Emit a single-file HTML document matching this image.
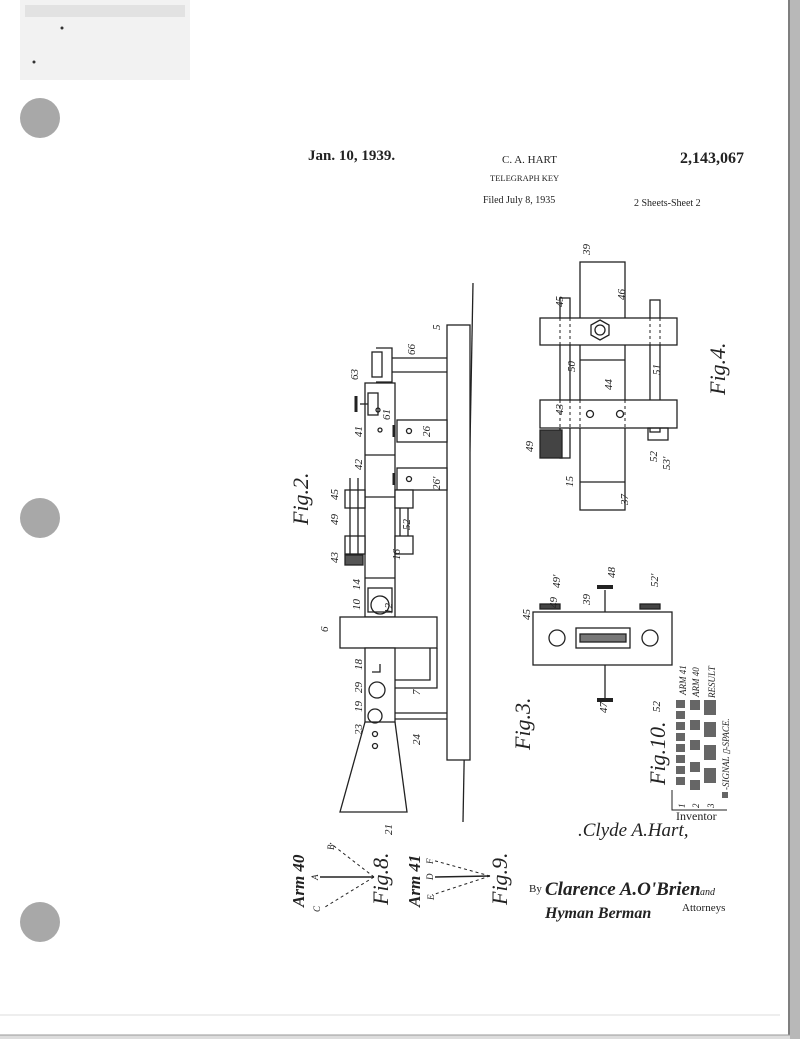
<!DOCTYPE html>
<html><head><meta charset="utf-8"><style>
html,body{margin:0;padding:0;background:#fff}
svg{display:block}
text{font-family:"Liberation Serif",serif;fill:#222}
.it{font-style:italic}
</style></head><body>
<svg width="800" height="1039" viewBox="0 0 800 1039" xmlns="http://www.w3.org/2000/svg">
<rect width="800" height="1039" fill="#fff"/>
<!-- page edges -->
<rect x="790" y="0" width="10" height="1039" fill="#b8b8b8"/>
<line x1="789" y1="0" x2="789" y2="1039" stroke="#555" stroke-width="1.5"/>
<rect x="0" y="1035" width="790" height="4" fill="#ddd"/>
<line x1="0" y1="1035" x2="790" y2="1035" stroke="#999" stroke-width="1"/>
<line x1="0" y1="1015" x2="780" y2="1015" stroke="#eee" stroke-width="2"/>
<!-- smudge top-left -->
<rect x="20" y="0" width="170" height="80" fill="#f2f2f2"/>
<rect x="25" y="5" width="160" height="12" fill="#e2e2e2"/>
<circle cx="62" cy="28" r="1.5" fill="#333"/>
<circle cx="34" cy="62" r="1.5" fill="#333"/>
<!-- punch holes -->
<circle cx="40" cy="118" r="20" fill="#a8a8a8"/>
<circle cx="40" cy="518" r="20" fill="#a8a8a8"/>
<circle cx="40" cy="922" r="20" fill="#a8a8a8"/>

<!-- header -->
<text x="308" y="160" font-size="15" font-weight="bold">Jan. 10, 1939.</text>
<text x="502" y="163" font-size="11" font-family="Liberation Sans,sans-serif">C. A. HART</text>
<text x="680" y="163" font-size="16" font-weight="bold">2,143,067</text>
<text x="490" y="181" font-size="8.5" font-family="Liberation Mono,monospace">TELEGRAPH KEY</text>
<text x="483" y="203" font-size="10" font-family="Liberation Mono,monospace">Filed July 8, 1935</text>
<text x="634" y="206" font-size="10" font-family="Liberation Mono,monospace">2 Sheets-Sheet 2</text>

<g stroke="#222" stroke-width="1.3" fill="none">
<!-- Fig 2 -->
<line x1="473" y1="283" x2="463" y2="822"/>
<rect x="447" y="325" width="23" height="435" fill="#fff"/>
<rect x="372" y="352" width="10" height="25"/>
<path d="M376 348 h16 v34 h-16"/>
<line x1="392" y1="358" x2="447" y2="358"/><line x1="392" y1="372" x2="447" y2="372"/>
<rect x="365" y="383" width="30" height="234" fill="#fff"/>
<line x1="365" y1="455" x2="395" y2="455"/>
<line x1="365" y1="497" x2="395" y2="497"/>
<line x1="365" y1="578" x2="395" y2="578"/>
<rect x="368" y="393" width="10" height="22"/><line x1="360" y1="404" x2="368" y2="404"/><line x1="356" y1="396" x2="356" y2="412" stroke-width="3"/>
<circle cx="378" cy="410" r="2"/><circle cx="380" cy="430" r="2"/>
<rect x="397" y="420" width="50" height="22" fill="#fff"/><circle cx="409" cy="431" r="2.5"/>
<rect x="397" y="468" width="50" height="22" fill="#fff"/><circle cx="409" cy="479" r="2.5"/>
<line x1="394" y1="425" x2="394" y2="437" stroke-width="3"/><line x1="394" y1="473" x2="394" y2="485" stroke-width="3"/>
<rect x="345" y="490" width="20" height="18" fill="#fff"/><rect x="395" y="490" width="18" height="18" fill="#fff"/>
<rect x="345" y="536" width="20" height="18" fill="#fff"/><rect x="395" y="536" width="18" height="18" fill="#fff"/>
<line x1="350" y1="478" x2="350" y2="560"/><line x1="358" y1="478" x2="358" y2="560"/>
<rect x="345" y="555" width="18" height="10" fill="#555"/>
<line x1="400" y1="508" x2="400" y2="536"/><line x1="408" y1="508" x2="408" y2="536"/>
<rect x="368" y="588" width="24" height="24"/><circle cx="380" cy="605" r="9"/>
<rect x="340" y="617" width="97" height="31" fill="#fff"/>
<rect x="365" y="648" width="30" height="74" fill="#fff"/>
<path d="M365 722 L340 812 L407 812 L395 722"/>
<circle cx="377" cy="690" r="8"/><circle cx="375" cy="716" r="7"/>
<circle cx="375" cy="734" r="2.5"/><circle cx="375" cy="746" r="2.5"/>
<path d="M380 664 v8 h-8"/>
<path d="M395 680 h35 v-32"/><path d="M395 688 h42 v-40"/>
<line x1="395" y1="713" x2="447" y2="713"/><line x1="395" y1="719" x2="447" y2="719"/>

<!-- Fig 4 -->
<rect x="580" y="262" width="45" height="248" fill="#fff"/>
<line x1="580" y1="482" x2="625" y2="482"/>
<line x1="580" y1="360" x2="625" y2="360"/>
<rect x="560" y="298" width="10" height="160"/>
<rect x="650" y="300" width="10" height="132"/>
<rect x="540" y="318" width="137" height="27" fill="#fff"/>
<rect x="540" y="400" width="137" height="28" fill="#fff"/>
<polygon points="600,320 609,325 609,335 600,340 591,335 591,325"/>
<circle cx="600" cy="330" r="5"/>
<circle cx="590" cy="414" r="3.5"/><circle cx="620" cy="414" r="3.5"/>
<rect x="540" y="430" width="22" height="28" fill="#444"/>
<rect x="648" y="428" width="20" height="12"/>
<g stroke-dasharray="3,3" stroke-width="1"><line x1="560" y1="318" x2="560" y2="345"/><line x1="570" y1="318" x2="570" y2="345"/><line x1="650" y1="318" x2="650" y2="345"/><line x1="660" y1="318" x2="660" y2="345"/>
<line x1="560" y1="400" x2="560" y2="428"/><line x1="570" y1="400" x2="570" y2="428"/><line x1="580" y1="400" x2="580" y2="428"/><line x1="625" y1="400" x2="625" y2="428"/></g>

<!-- Fig 3 -->
<rect x="533" y="612" width="139" height="53" fill="#fff"/>
<circle cx="557" cy="638" r="8"/><circle cx="650" cy="638" r="8"/>
<rect x="576" y="628" width="54" height="20"/>
<rect x="580" y="634" width="46" height="8" fill="#777"/>
<line x1="605" y1="612" x2="605" y2="590"/><line x1="597" y1="587" x2="613" y2="587" stroke-width="4"/>
<line x1="605" y1="665" x2="605" y2="698"/><line x1="597" y1="700" x2="613" y2="700" stroke-width="4"/>
<rect x="540" y="604" width="20" height="5" fill="#444"/><rect x="640" y="604" width="20" height="5" fill="#444"/>

<!-- Fig 8 -->
<line x1="374" y1="877" x2="320" y2="877" stroke-width="1.6"/>
<line x1="374" y1="877" x2="330" y2="843" stroke-dasharray="3,3" stroke-width="1"/>
<line x1="374" y1="877" x2="325" y2="907" stroke-dasharray="3,3" stroke-width="1"/>
<!-- Fig 9 -->
<line x1="490" y1="876" x2="435" y2="877" stroke-width="1.6"/>
<line x1="490" y1="876" x2="432" y2="860" stroke-dasharray="3,3" stroke-width="1"/>
<line x1="490" y1="876" x2="432" y2="895" stroke-dasharray="3,3" stroke-width="1"/>
</g>

<!-- Fig 10 grid -->
<g fill="#666">
<rect x="676" y="700" width="9" height="8"/><rect x="676" y="711" width="9" height="8"/><rect x="676" y="722" width="9" height="8"/><rect x="676" y="733" width="9" height="8"/><rect x="676" y="744" width="9" height="8"/><rect x="676" y="755" width="9" height="8"/><rect x="676" y="766" width="9" height="8"/><rect x="676" y="777" width="9" height="8"/>
<rect x="690" y="700" width="10" height="10"/><rect x="690" y="720" width="10" height="10"/><rect x="690" y="740" width="10" height="10"/><rect x="690" y="762" width="10" height="10"/><rect x="690" y="780" width="10" height="10"/>
<rect x="704" y="700" width="12" height="15"/><rect x="704" y="722" width="12" height="15"/><rect x="704" y="745" width="12" height="15"/><rect x="704" y="768" width="12" height="15"/>
<rect x="722" y="792" width="6" height="6"/>
</g>
<path d="M672 790 v20 h55" stroke="#222" fill="none"/>

<g font-size="11" class="it">
<text transform="rotate(-90 440 330)" x="440" y="330">5</text>
<text transform="rotate(-90 415 355)" x="415" y="355">66</text>
<text transform="rotate(-90 358 380)" x="358" y="380">63</text>
<text transform="rotate(-90 390 420)" x="390" y="420">61</text>
<text transform="rotate(-90 362 437)" x="362" y="437">41</text>
<text transform="rotate(-90 430 437)" x="430" y="437">26</text>
<text transform="rotate(-90 362 470)" x="362" y="470">42</text>
<text transform="rotate(-90 440 490)" x="440" y="490">26'</text>
<text transform="rotate(-90 338 500)" x="338" y="500">45</text>
<text transform="rotate(-90 338 525)" x="338" y="525">49</text>
<text transform="rotate(-90 410 530)" x="410" y="530">52</text>
<text transform="rotate(-90 338 563)" x="338" y="563">43</text>
<text transform="rotate(-90 400 560)" x="400" y="560">16</text>
<text transform="rotate(-90 360 590)" x="360" y="590">14</text>
<text transform="rotate(-90 360 610)" x="360" y="610">10</text>
<text transform="rotate(-90 392 614)" x="392" y="614">12</text>
<text transform="rotate(-90 328 632)" x="328" y="632">6</text>
<text transform="rotate(-90 362 670)" x="362" y="670">18</text>
<text transform="rotate(-90 362 693)" x="362" y="693">29</text>
<text transform="rotate(-90 420 695)" x="420" y="695">7</text>
<text transform="rotate(-90 362 712)" x="362" y="712">19</text>
<text transform="rotate(-90 362 735)" x="362" y="735">23</text>
<text transform="rotate(-90 420 745)" x="420" y="745">24</text>
<text transform="rotate(-90 392 835)" x="392" y="835">21</text>
<text transform="rotate(-90 590 255)" x="590" y="255">39</text>
<text transform="rotate(-90 563 307)" x="563" y="307">45</text>
<text transform="rotate(-90 625 300)" x="625" y="300">46</text>
<text transform="rotate(-90 575 372)" x="575" y="372">50</text>
<text transform="rotate(-90 612 390)" x="612" y="390">44</text>
<text transform="rotate(-90 660 375)" x="660" y="375">51</text>
<text transform="rotate(-90 563 415)" x="563" y="415">43</text>
<text transform="rotate(-90 533 452)" x="533" y="452">49</text>
<text transform="rotate(-90 657 462)" x="657" y="462">52</text>
<text transform="rotate(-90 670 470)" x="670" y="470">53'</text>
<text transform="rotate(-90 573 487)" x="573" y="487">15</text>
<text transform="rotate(-90 628 505)" x="628" y="505">37</text>
<text transform="rotate(-90 530 620)" x="530" y="620">45</text>
<text transform="rotate(-90 557 608)" x="557" y="608">49</text>
<text transform="rotate(-90 560 588)" x="560" y="588">49'</text>
<text transform="rotate(-90 590 605)" x="590" y="605">39</text>
<text transform="rotate(-90 615 578)" x="615" y="578">48</text>
<text transform="rotate(-90 658 587)" x="658" y="587">52'</text>
<text transform="rotate(-90 607 713)" x="607" y="713">47</text>
<text transform="rotate(-90 660 712)" x="660" y="712">52</text>
</g>
<g font-size="9" font-family="Liberation Sans,sans-serif" class="it">
<text transform="rotate(-90 686 695)" x="686" y="695">ARM 41</text>
<text transform="rotate(-90 699 697)" x="699" y="697">ARM 40</text>
<text transform="rotate(-90 715 698)" x="715" y="698">RESULT</text>
<text transform="rotate(-90 729 790)" x="729" y="790">-SIGNAL ▯-SPACE.</text>
<text transform="rotate(-90 685 808)" x="685" y="808">1</text>
<text transform="rotate(-90 699 808)" x="699" y="808">2</text>
<text transform="rotate(-90 714 808)" x="714" y="808">3</text>
<text transform="rotate(-90 334 850)" x="334" y="850">B</text>
<text transform="rotate(-90 318 880)" x="318" y="880">A</text>
<text transform="rotate(-90 320 912)" x="320" y="912">C</text>
<text transform="rotate(-90 433 864)" x="433" y="864">F</text>
<text transform="rotate(-90 433 880)" x="433" y="880">D</text>
<text transform="rotate(-90 434 900)" x="434" y="900">E</text>
</g>
<g font-size="22" class="it" font-family="Liberation Serif,serif">
<text transform="rotate(-90 308 525)" x="308" y="525">Fig.2.</text>
<text transform="rotate(-90 530 750)" x="530" y="750">Fig.3.</text>
<text transform="rotate(-90 725 395)" x="725" y="395">Fig.4.</text>
<text transform="rotate(-90 665 785)" x="665" y="785">Fig.10.</text>
<text transform="rotate(-90 388 905)" x="388" y="905">Fig.8.</text>
<text transform="rotate(-90 507 905)" x="507" y="905">Fig.9.</text>
</g>
<g font-size="17" font-weight="bold" class="it">
<text transform="rotate(-90 304 907)" x="304" y="907">Arm 40</text>
<text transform="rotate(-90 420 907)" x="420" y="907">Arm 41</text>
</g>
<text x="676" y="820" font-size="12">Inventor</text>
<text x="578" y="836" font-size="19" class="it" font-family="Liberation Serif,serif">.Clyde A.Hart,</text>
<text x="529" y="892" font-size="11">By</text>
<text x="545" y="895" font-size="19" class="it" font-weight="bold" font-family="Liberation Serif,serif">Clarence A.O'Brien</text>
<text x="700" y="895" font-size="10" class="it">and</text>
<text x="545" y="918" font-size="16" class="it" font-weight="bold" font-family="Liberation Serif,serif">Hyman  Berman</text>
<text x="682" y="911" font-size="11">Attorneys</text>
</svg>
</body></html>
